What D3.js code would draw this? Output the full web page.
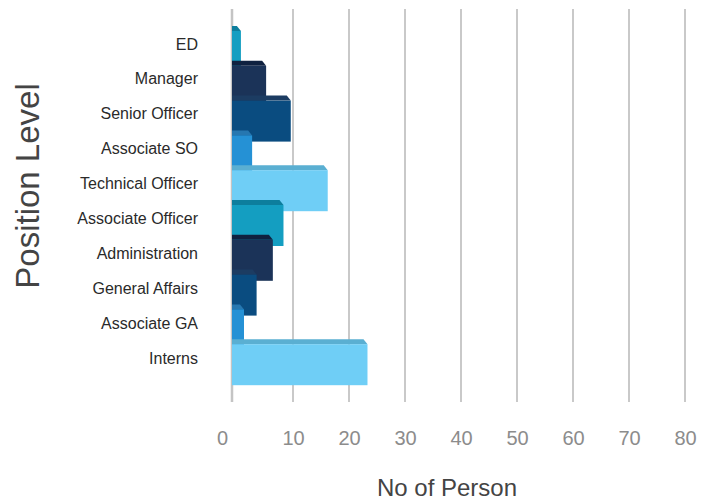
<!DOCTYPE html>
<html>
<head>
<meta charset="utf-8">
<script src="https://cdn.jsdelivr.net/npm/d3@7"></script>
<style>
  html, body { margin: 0; padding: 0; background: #fff; }
  svg { display: block; font-family: "Liberation Sans", Arial, sans-serif; }
</style>
</head>
<body>
<svg id="chart" width="707" height="500"></svg>
<script>
// Headcount per position level
const categories = ["ED", "Manager", "Senior Officer", "Associate SO", "Technical Officer",
  "Associate Officer", "Administration", "General Affairs", "Associate GA", "Interns"];
const persons = [0.7, 5.2, 9.6, 2.7, 16.2, 8.3, 6.4, 3.5, 1.25, 23.3];
const xTicks = [0, 10, 20, 30, 40, 50, 60, 70, 80];

// front / top face colours, cycling through five blues
const frontColors = ["#149ec1", "#1b3358", "#0a4c80", "#2591d5", "#6fcef6"];
const topColors   = ["#0d7e9d", "#0f2140", "#1c3c62", "#2677b0", "#5aafd2"];

const svg = d3.select("#chart");

const x = d3.scaleLinear().domain([0, 80]).range([237, 685]);
const wallX = x(0) - 5;
const plotTop = 9, plotBottom = 402;

// bar rows (front faces overlap the row below)
const y = d3.scaleBand().domain(categories).range([31, 379]).paddingInner(0).paddingOuter(0);
const barH = 41, depth = 5, slant = 4;
// category label positions
const yLabel = d3.scalePoint().domain(categories).range([44, 358]);

// gridlines
svg.append("g").selectAll("line")
  .data(xTicks.filter(d => d > 0))
  .join("line")
  .attr("x1", d => x(d)).attr("x2", d => x(d))
  .attr("y1", plotTop).attr("y2", plotBottom)
  .attr("stroke", "#c9c9c9").attr("stroke-width", 2);

// left wall
svg.append("line")
  .attr("x1", wallX).attr("x2", wallX)
  .attr("y1", plotTop).attr("y2", plotBottom)
  .attr("stroke", "#c4c4c4").attr("stroke-width", 2.5);

// bars, drawn top to bottom so each covers the one above
const bars = svg.append("g").selectAll("g")
  .data(categories.map((c, i) => ({ c, v: persons[i], i })))
  .join("g");

bars.append("path")
  .attr("d", d => {
    const y0 = y(d.c), x1 = x(d.v);
    return `M${wallX},${y0} L${x1},${y0} L${x1 - slant},${y0 - depth} L${wallX},${y0 - depth} Z`;
  })
  .attr("fill", d => topColors[d.i % 5]);

bars.append("rect")
  .attr("x", wallX)
  .attr("y", d => y(d.c))
  .attr("width", d => x(d.v) - wallX)
  .attr("height", barH)
  .attr("fill", d => frontColors[d.i % 5]);

// category labels
svg.append("g").selectAll("text")
  .data(categories)
  .join("text")
  .attr("x", 198)
  .attr("y", d => yLabel(d))
  .attr("dy", "0.35em")
  .attr("text-anchor", "end")
  .attr("font-size", 16)
  .attr("fill", "#2a2a2a")
  .text(d => d);

// x axis tick labels
const xAxis = d3.axisBottom(x).tickValues(xTicks).tickSize(0).tickPadding(0);
const gx = svg.append("g").attr("transform", "translate(0,431)").call(xAxis);
gx.select(".domain").remove();
gx.selectAll("text")
  .attr("font-size", 20)
  .attr("font-family", "Liberation Sans, Arial, sans-serif")
  .attr("fill", "#8c8c8c")
  .attr("dy", "0.35em")
  .attr("y", 7)
  .attr("dx", d => d === 0 ? -15 : 0);

// axis titles
svg.append("text")
  .attr("x", 447).attr("y", 488)
  .attr("dy", "0.35em")
  .attr("text-anchor", "middle")
  .attr("font-size", 24)
  .attr("fill", "#444")
  .text("No of Person");

svg.append("text")
  .attr("transform", "translate(27,186) rotate(-90)")
  .attr("dy", "0.35em")
  .attr("text-anchor", "middle")
  .attr("font-size", 33)
  .attr("fill", "#444")
  .text("Position Level");
</script>
</body>
</html>
